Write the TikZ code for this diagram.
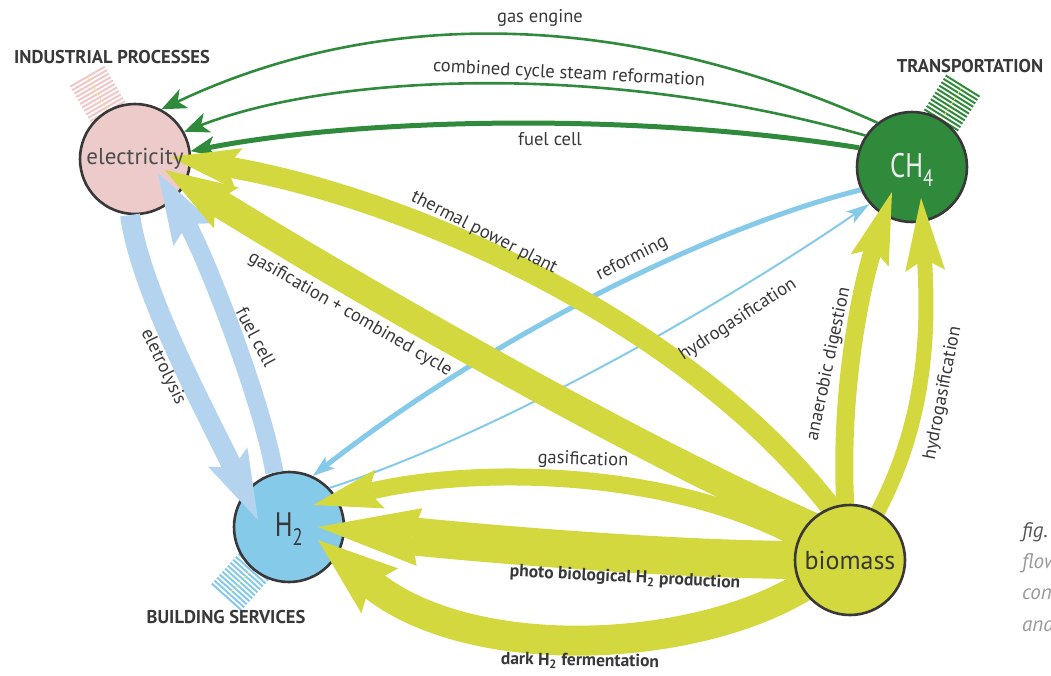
\documentclass[tikz,border=0pt]{standalone}
\usepackage{fontspec}
\setmainfont{PT Sans}
\newfontfamily\condfont[FakeStretch=0.78]{PT Sans}
\usetikzlibrary{arrows.meta,calc}

\definecolor{elecpink}{HTML}{EDCBCB}
\definecolor{stripepink}{HTML}{F2C6C6}
\definecolor{methgreen}{HTML}{2F8A3B}
\definecolor{hydblue}{HTML}{86CAEA}
\definecolor{bioyellow}{HTML}{D3D83F}
\definecolor{paleblue}{HTML}{B3D3EE}
\definecolor{inkgray}{HTML}{383838}
\definecolor{figgray}{HTML}{9A9A9A}
\definecolor{threadyellow}{HTML}{F3EC6A}

\tikzset{
  hub/.style={circle, draw=inkgray, line width=2.6pt, inner sep=0pt, minimum size=110pt},
  lbl/.style={font=\fontsize{18.5}{21}\selectfont, text=inkgray, inner sep=0pt},
  boldlbl/.style={font=\bfseries\fontsize{17.5}{20}\selectfont, text=inkgray, inner sep=0pt},
  headlbl/.style={font=\bfseries\fontsize{18.5}{21}\selectfont, text=inkgray, inner sep=0pt},
  greenflow/.style={draw=methgreen, line width=#1,
    -{Stealth[length=25pt,width=21pt,inset=7pt,line width=0pt]}},
  yellowflow/.style={draw=bioyellow, line width=#1},
  bigtip/.style n args={3}{-{Stealth[length=#1,width=#2,inset=#3,line width=0pt]}},
  thread/.style={line width=2pt},
}

\begin{document}
\begin{tikzpicture}[x=1pt,y=-1pt]
\useasboundingbox (0,0) rectangle (1051,675);

% screw-thread blocks behind the hubs
\begin{scope}[shift={(97.5,94)}, rotate=120]
  \foreach \a in {-20,-16,...,20} \draw[thread, stripepink] (\a,-20) -- (\a,20);
  \draw[threadyellow, line width=0.8pt, dashed] (-20,0) -- (20,0);
\end{scope}
\begin{scope}[shift={(952,103)}, rotate=58]
  \foreach \a in {-20,-16,...,20} \draw[thread, methgreen] (\a,-20) -- (\a,20);
  \draw[threadyellow, line width=0.8pt, dashed] (-20,0) -- (20,0);
\end{scope}
\begin{scope}[shift={(240,582)}, rotate=228]
  \foreach \a in {-20,-16,...,20} \draw[thread, hydblue] (\a,-20) -- (\a,20);
  \draw[threadyellow, line width=0.8pt, dashed] (-20,0) -- (20,0);
\end{scope}

% energy carriers
\node[hub, fill=elecpink] (elec) at (135,159) {};
\node[hub, fill=methgreen] (ch4) at (912,167) {};
\node[hub, fill=hydblue] (h2) at (289,527) {};
\coordinate (biocenter) at (850,560);
\node[hub, draw=none] (bio) at (biocenter) {};

% methane to electricity
\draw[greenflow=2.6pt] (ch4.128) .. controls (580,-10) and (340,25) .. (elec.62);
\draw[greenflow=2.6pt] (ch4.146) .. controls (600,60) and (330,75) .. (elec.29);
\draw[greenflow=5pt] (ch4.160) .. controls (620,110) and (350,120) .. (elec.8);

% methane <-> hydrogen
\draw[draw=hydblue, line width=5pt, -{Stealth[length=22pt,width=15pt,inset=5pt,line width=0pt]}]
  (ch4.204) .. controls (700,230) and (480,345) .. (h2.65);
\draw[draw=hydblue, line width=2pt, -{Stealth[length=24pt,width=14pt,inset=6pt,line width=0pt]}]
  (h2.44) .. controls (480,440) and (700,320) .. (ch4.221);

% hydrogen <-> electricity
\draw[draw=paleblue, line width=20pt, bigtip={70pt}{44pt}{12pt}]
  (elec.265) .. controls (140,290) and (205,410) .. ($(h2.center)+(-31,-7)$);
\draw[draw=paleblue, line width=18pt, bigtip={71pt}{46pt}{12pt}]
  (h2.105) .. controls (262,400) and (205,255) .. ($(elec.center)+(23,14)$);

% biomass to electricity
\draw[yellowflow=21pt, bigtip={70pt}{42pt}{12pt}, shorten <=-12pt]
  (bio.110) .. controls (700,330) and (420,200) .. ($(elec.center)+(35,-2)$);
\draw[yellowflow=28pt, bigtip={72pt}{48pt}{12pt}, shorten <=-12pt]
  (bio.140) .. controls (660,460) and (400,315) .. ($(elec.center)+(30,11)$);

% biomass to methane
\draw[yellowflow=18pt, bigtip={72pt}{40pt}{12pt}, shorten <=-12pt]
  (bio.95) .. controls (838,400) and (860,290) .. ($(ch4.center)+(-20,25)$);
\draw[yellowflow=15pt, bigtip={73pt}{40pt}{12pt}, shorten <=-12pt]
  (bio.60) .. controls (930,420) and (928,320) .. ($(ch4.center)+(9,31)$);

% biomass to hydrogen
\draw[yellowflow=17pt, bigtip={69pt}{40pt}{12pt}, shorten <=-12pt]
  (bio.158) .. controls (680,470) and (480,465) .. ($(h2.center)+(24,-22)$);
\draw[yellowflow=38pt, bigtip={102pt}{58pt}{8pt}, shorten <=-12pt]
  (bio.180) .. controls (680,560) and (500,545) .. ($(h2.center)+(29,0)$);
\draw[yellowflow=30pt, bigtip={80pt}{58pt}{12pt}, shorten <=-12pt]
  (bio.210) .. controls (700,655) and (470,665) .. ($(h2.center)+(29,13)$);

% biomass hub drawn over the flow roots
\node[hub, fill=bioyellow] (biohub) at (biocenter) {};

% hub captions
\node[inner sep=0pt, font=\fontsize{23}{26}\selectfont, text=inkgray!90] at (elec.center) {electricity};
\node[inner sep=0pt, font=\condfont\fontsize{34}{36}\selectfont, text=white!93!black] at ($(ch4.center)+(0,3)$) {CH\textsubscript{4}};
\node[inner sep=0pt, font=\condfont\fontsize{34}{36}\selectfont, text=inkgray] at ($(h2.center)+(0,2)$) {H\textsubscript{2}};
\node[inner sep=0pt, font=\fontsize{26}{28}\selectfont, text=inkgray] at (biohub.center) {biomass};

% sector headings
\node[headlbl] (ind) at (112,57) {INDUSTRIAL PROCESSES};
\node[headlbl] (trans) at (970,66) {TRANSPORTATION};
\node[headlbl] (build) at (226,617) {BUILDING SERVICES};

% flow labels
\node[lbl] (lgas) at (540,18) {gas engine};
\node[lbl, rotate=-3] (lccsr) at (569,74) {combined cycle steam reformation};
\node[lbl] (lfcg) at (550,139) {fuel cell};
\node[lbl, rotate=-27] (ltpp) at (484,233) {thermal power plant};
\node[lbl, rotate=-30] (lgcc) at (350,314) {gasification + combined cycle};
\node[lbl, rotate=-64] (lelys) at (163,367) {eletrolysis};
\node[lbl, rotate=-62] (lfcb) at (256,337) {fuel cell};
\node[lbl, rotate=27] (lref) at (632,259) {reforming};
\node[lbl, rotate=33] (lhgb) at (738,320) {hydrogasification};
\node[lbl, rotate=78] (lanaer) at (829,364) {anaerobic digestion};
\node[lbl, rotate=79] (lhgy) at (943,393) {hydrogasification};
\node[lbl, rotate=-2] (lgasif) at (583,460) {gasification};
\node[boldlbl, rotate=-3] (lphoto) at (625,578) {photo biological H\textsubscript{2} production};
\node[boldlbl, rotate=-1] (ldark) at (580,661) {dark H\textsubscript{2} fermentation};

% caption running off the right edge
\begin{scope}
  \clip (0,0) rectangle (1051,675);
  \node[anchor=west, inner sep=0pt, font=\itshape\fontsize{21}{24}\selectfont, text=inkgray!85] at (1022,532) {fig.};
  \node[anchor=west, inner sep=0pt, font=\itshape\fontsize{21}{24}\selectfont, text=figgray] at (1022,563) {flow};
  \node[anchor=west, inner sep=0pt, font=\itshape\fontsize{21}{24}\selectfont, text=figgray] at (1022,594) {con};
  \node[anchor=west, inner sep=0pt, font=\itshape\fontsize{21}{24}\selectfont, text=figgray] at (1022,624) {and};
\end{scope}
\end{tikzpicture}
\end{document}
